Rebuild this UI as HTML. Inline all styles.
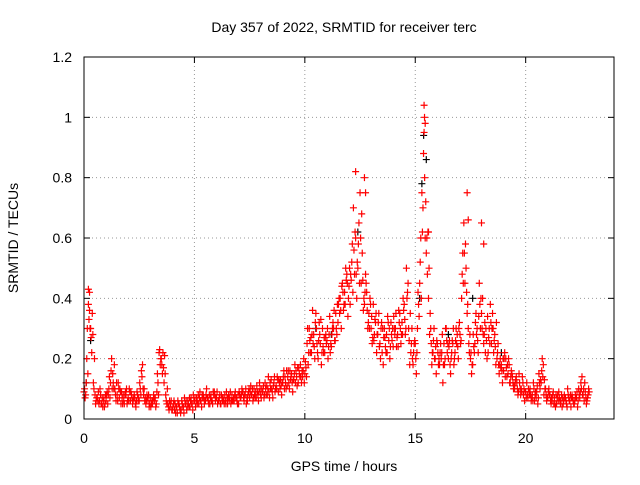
<!DOCTYPE html>
<html><head><meta charset="utf-8"><style>
body{margin:0;background:#fff;}
svg text{font-family:"Liberation Sans",sans-serif;font-size:14px;fill:#000;}
</style></head><body>
<svg id="chart" width="640" height="480" viewBox="0 0 640 480" xmlns="http://www.w3.org/2000/svg">
<rect x="0" y="0" width="640" height="480" fill="#fff"/>
<text x="344" y="32" text-anchor="middle">Day 357 of 2022, SRMTID for receiver terc</text>
<text x="344" y="471" text-anchor="middle">GPS time / hours</text>
<text transform="translate(18,238) rotate(-90)" text-anchor="middle">SRMTID / TECUs</text>
<g id="grid"></g><g id="ticks"></g><g id="marks"></g>
<rect x="84" y="57" width="530" height="362" fill="none" stroke="#000" stroke-width="1"/>
</svg>
<script>
const xTicks=[0,5,10,15,20];
const yTicks=[0,0.2,0.4,0.6,0.8,1,1.2];
const yTickLabels=["0","0.2","0.4","0.6","0.8","1","1.2"];
const startHour=0.0;
const stepHour=0.1;
const seriesA=[0.09,0.12,0.38,0.30,0.28,0.08,0.07,
0.06,0.05,0.07,0.06,0.08,0.12,
0.15,0.10,0.08,0.07,0.09,0.06,0.08,0.07,
0.06,0.05,0.07,0.09,0.06,0.16,0.08,0.05,0.06,
0.07,0.05,0.06,0.09,0.22,0.20,
0.17,0.08,0.05,0.04,0.03,
0.03,0.04,0.05,0.03,0.04,0.05,0.06,0.04,0.05,0.06,
0.07,0.05,0.06,0.08,0.06,0.07,0.05,0.06,0.09,0.07,
0.06,0.05,0.07,0.06,0.05,0.07,0.08,0.06,0.07,0.05,
0.07,0.09,0.08,0.06,0.07,0.08,0.10,0.07,0.06,0.08,
0.09,0.12,0.08,0.07,0.10,0.12,0.11,0.09,0.13,0.12,
0.14,0.11,0.10,0.15,0.13,0.16,0.12,0.18,0.14,0.15,
0.25,0.30,0.22,0.28,0.35,0.20,0.25,0.30,0.22,0.26,
0.28,0.24,0.30,0.35,0.32,0.40,0.45,0.42,0.48,0.44,
0.46,0.70,0.60,0.50,0.75,0.55,0.38,0.42,0.35,0.30,
0.38,0.32,0.28,0.25,0.22,0.30,0.28,0.26,0.32,0.24,
0.30,0.28,0.35,0.32,0.38,0.50,0.30,0.22,0.18,0.25,
0.30,0.45,0.75,0.95,0.55,0.40,0.30,0.22,0.20,0.25,
0.18,0.22,0.25,0.30,0.20,0.15,0.25,0.22,0.28,0.32,
0.40,0.65,0.50,0.30,0.20,0.18,0.25,0.30,0.45,0.35,
0.25,0.30,0.22,0.38,0.35,0.28,0.20,0.15,0.18,0.16,
0.20,0.15,0.12,0.14,0.10,0.12,0.15,0.10,0.08,0.09,
0.07,0.10,0.08,0.06,0.09,0.15,0.12,0.18,0.10,0.07,
0.08,0.06,0.07,0.05,0.09,0.06,0.05,0.07,0.10,0.06,
0.08,0.05,0.07,0.10,0.12,0.08,0.09,0.07];
const seriesB=[0.07,0.30,0.42,0.22,0.10,0.06,0.09,
0.08,0.04,0.05,0.09,0.14,0.20,
0.10,0.06,0.12,0.09,0.05,0.08,0.05,0.10,
0.08,0.07,0.04,0.06,0.10,0.18,0.06,0.08,0.04,
0.05,0.08,0.04,0.12,0.18,0.15,
0.21,0.05,0.03,0.06,0.05,
0.02,0.06,0.03,0.05,0.07,0.03,0.04,0.07,0.08,0.04,
0.05,0.09,0.08,0.05,0.10,0.05,0.08,0.09,0.06,0.05,
0.08,0.07,0.05,0.09,0.08,0.05,0.06,0.09,0.05,0.08,
0.10,0.06,0.05,0.09,0.11,0.06,0.07,0.09,0.12,0.10,
0.07,0.08,0.14,0.10,0.07,0.09,0.14,0.12,0.08,0.16,
0.10,0.16,0.13,0.09,0.18,0.11,0.15,0.12,0.20,0.17,
0.18,0.22,0.36,0.20,0.25,0.32,0.18,0.22,0.28,0.20,
0.22,0.30,0.26,0.28,0.40,0.30,0.36,0.50,0.34,0.38,
0.58,0.48,0.40,0.65,0.45,0.36,0.48,0.30,0.40,0.25,
0.28,0.22,0.35,0.30,0.18,0.24,0.34,0.20,0.26,0.30,
0.24,0.36,0.25,0.40,0.28,0.42,0.18,0.30,0.25,0.15,
0.38,0.60,0.70,0.60,0.48,0.28,0.18,0.30,0.15,0.18,
0.25,0.12,0.20,0.22,0.26,0.22,0.18,0.30,0.20,0.25,
0.55,0.45,0.35,0.22,0.15,0.24,0.35,0.22,0.30,0.40,
0.32,0.20,0.30,0.25,0.22,0.18,0.25,0.20,0.12,0.22,
0.14,0.18,0.16,0.10,0.13,0.08,0.10,0.14,0.06,0.12,
0.09,0.06,0.12,0.09,0.05,0.10,0.20,0.13,0.06,0.10,
0.05,0.09,0.04,0.08,0.06,0.04,0.08,0.05,0.07,0.04,
0.06,0.08,0.04,0.07,0.14,0.06,0.05,0.10];
const seriesC=[0.10,0.20,0.33,0.27,0.12,0.05,0.06,
0.10,0.07,0.04,0.08,0.10,0.16,
0.12,0.08,0.06,0.10,0.07,0.05,0.10,0.06,
0.09,0.06,0.05,0.08,0.12,0.14,0.10,0.06,0.08,
0.04,0.06,0.07,0.15,0.23,0.18,
0.12,0.06,0.04,0.05,0.04,
0.05,0.02,0.04,0.06,0.02,0.06,0.05,0.06,0.03,0.07,
0.06,0.07,0.04,0.07,0.08,0.06,0.07,0.05,0.08,0.09,
0.07,0.08,0.06,0.05,0.07,0.09,0.06,0.08,0.06,0.09,
0.08,0.07,0.10,0.08,0.09,0.10,0.08,0.11,0.09,0.07,
0.11,0.10,0.10,0.12,0.09,0.14,0.10,0.13,0.11,0.14,
0.12,0.14,0.16,0.12,0.15,0.14,0.17,0.14,0.16,0.19,
0.30,0.26,0.28,0.24,0.30,0.26,0.33,0.24,0.27,0.30,
0.34,0.28,0.36,0.30,0.38,0.36,0.42,0.38,0.45,0.50,
0.52,0.56,0.48,0.58,0.60,0.46,0.42,0.36,0.30,0.34,
0.26,0.35,0.32,0.20,0.30,0.27,0.22,0.30,0.28,0.34,
0.35,0.24,0.30,0.28,0.33,0.40,0.26,0.25,0.22,0.20,
0.42,0.52,0.62,0.80,0.60,0.50,0.25,0.26,0.24,0.22,
0.22,0.28,0.18,0.26,0.24,0.20,0.30,0.26,0.24,0.28,
0.48,0.55,0.42,0.25,0.22,0.28,0.32,0.26,0.38,0.30,
0.28,0.26,0.27,0.32,0.30,0.24,0.22,0.18,0.16,0.20,
0.17,0.20,0.14,0.12,0.12,0.10,0.12,0.09,0.10,0.07,
0.10,0.08,0.06,0.08,0.11,0.12,0.16,0.08,0.08,0.09,
0.06,0.08,0.05,0.07,0.07,0.08,0.06,0.06,0.08,0.08,
0.07,0.06,0.09,0.08,0.10,0.10,0.07,0.08];
const seriesD=[0.08,0.15,0.30,0.35,0.20,0.07,0.05,
0.05,0.06,0.08,0.05,0.07,0.10,
0.18,0.12,0.10,0.05,0.08,0.09,0.06,0.09,
0.07,0.08,0.06,0.07,0.08,0.10,0.07,0.07,0.05,
0.06,0.07,0.05,0.08,0.20,0.22,
0.15,0.10,0.06,0.03,0.06,
0.04,0.05,0.02,0.04,0.05,0.04,0.07,0.05,0.06,0.05,
0.08,0.06,0.07,0.06,0.07,0.08,0.06,0.08,0.07,0.06,
0.05,0.06,0.08,0.07,0.06,0.06,0.07,0.07,0.08,0.07,
0.09,0.08,0.07,0.10,0.08,0.07,0.09,0.08,0.10,0.09,
0.08,0.11,0.09,0.13,0.11,0.10,0.13,0.10,0.12,0.10,
0.16,0.12,0.14,0.13,0.12,0.17,0.14,0.16,0.12,0.14,
0.22,0.27,0.25,0.32,0.22,0.28,0.22,0.27,0.25,0.24,
0.25,0.32,0.26,0.38,0.35,0.44,0.38,0.46,0.40,0.48,
0.42,0.62,0.52,0.45,0.68,0.40,0.45,0.32,0.38,0.27,
0.33,0.28,0.24,0.32,0.27,0.22,0.32,0.24,0.30,0.28,
0.27,0.32,0.28,0.36,0.30,0.45,0.35,0.20,0.26,0.22,
0.34,0.40,0.88,0.72,0.62,0.35,0.22,0.20,0.26,0.20,
0.20,0.18,0.30,0.25,0.18,0.26,0.20,0.25,0.30,0.26,
0.45,0.58,0.38,0.28,0.18,0.22,0.28,0.34,0.40,0.28,
0.22,0.34,0.25,0.30,0.26,0.32,0.18,0.17,0.20,0.14,
0.18,0.12,0.15,0.11,0.14,0.09,0.08,0.12,0.09,0.08,
0.08,0.07,0.10,0.07,0.07,0.13,0.14,0.10,0.07,0.08,
0.07,0.05,0.08,0.06,0.05,0.07,0.07,0.04,0.06,0.07,
0.05,0.07,0.06,0.09,0.08,0.12,0.06,0.09];
const spikeHours=[0.2,0.25,12.3,12.7,12.75,15.4,15.42,15.45,15.6,17.35,17.4,18.0,18.1];
const spikeValues=[0.43,0.36,0.82,0.80,0.75,1.04,1.0,0.98,0.62,0.75,0.66,0.65,0.58];
const blackHours=[0.1,0.3,10.5,11.2,12.4,15.3,15.38,15.5,15.2,16.5,17.6,18.9];
const blackValues=[0.12,0.26,0.30,0.28,0.62,0.78,0.94,0.86,0.40,0.28,0.40,0.22];

const X0=84,X1=614,Y0=419,Y1=57,XMAX=24,YMAX=1.2;
function xs(h){return X0+(X1-X0)*h/XMAX;}
function ys(v){return Y0-(Y0-Y1)*v/YMAX;}
const NS="http://www.w3.org/2000/svg";
const grid=document.getElementById('grid'),ticks=document.getElementById('ticks'),marks=document.getElementById('marks');
function mk(tag,attrs,parent){const e=document.createElementNS(NS,tag);for(const k in attrs)e.setAttribute(k,attrs[k]);parent.appendChild(e);return e;}
xTicks.forEach((t)=>{
  const x=xs(t);
  if(t>0){const g=mk('line',{x1:x,x2:x,y1:Y0,y2:Y1,stroke:'#999','stroke-dasharray':'1,3'},grid);
  
  }
  mk('line',{x1:x,x2:x,y1:Y0,y2:Y0-6,stroke:'#000'},ticks);
  mk('line',{x1:x,x2:x,y1:Y1,y2:Y1+6,stroke:'#000'},ticks);
  const l=mk('text',{x:x,y:Y0+24,'text-anchor':'middle'},ticks);l.textContent=t;
  
  
});
yTicks.forEach((t,i)=>{
  const y=ys(t);
  if(t>0&&t<YMAX){const g=mk('line',{x1:X0,x2:X1,y1:y,y2:y,stroke:'#999','stroke-dasharray':'1,3'},grid);
  
  }
  mk('line',{x1:X0,x2:X0+6,y1:y,y2:y,stroke:'#000'},ticks);
  mk('line',{x1:X1,x2:X1-6,y1:y,y2:y,stroke:'#000'},ticks);
  const l=mk('text',{x:X0-12,y:y+5,'text-anchor':'end'},ticks);l.textContent=yTickLabels[i];
  
  
});
function plus(h,v,color,name){
  const x=xs(h),y=ys(v);
  const p=mk('path',{d:`M${x-3.5},${y}H${x+3.5}M${x},${y-3.5}V${y+3.5}`,stroke:color,'stroke-width':1.2,fill:'none'},marks);
  
  
}
blackHours.forEach((h,i)=>plus(h,blackValues[i],'#000','black-point'));
seriesA.forEach((v,i)=>plus(startHour+i*stepHour,v,'#f00','srmtid-point'));
seriesB.forEach((v,i)=>plus(startHour+i*stepHour+0.05,v,'#f00','srmtid-point'));
seriesC.forEach((v,i)=>plus(startHour+i*stepHour+0.025,v,'#f00','srmtid-point'));
seriesD.forEach((v,i)=>plus(startHour+i*stepHour+0.075,v,'#f00','srmtid-point'));
spikeHours.forEach((h,i)=>plus(h,spikeValues[i],'#f00','srmtid-spike'));
</script>
</body></html>
